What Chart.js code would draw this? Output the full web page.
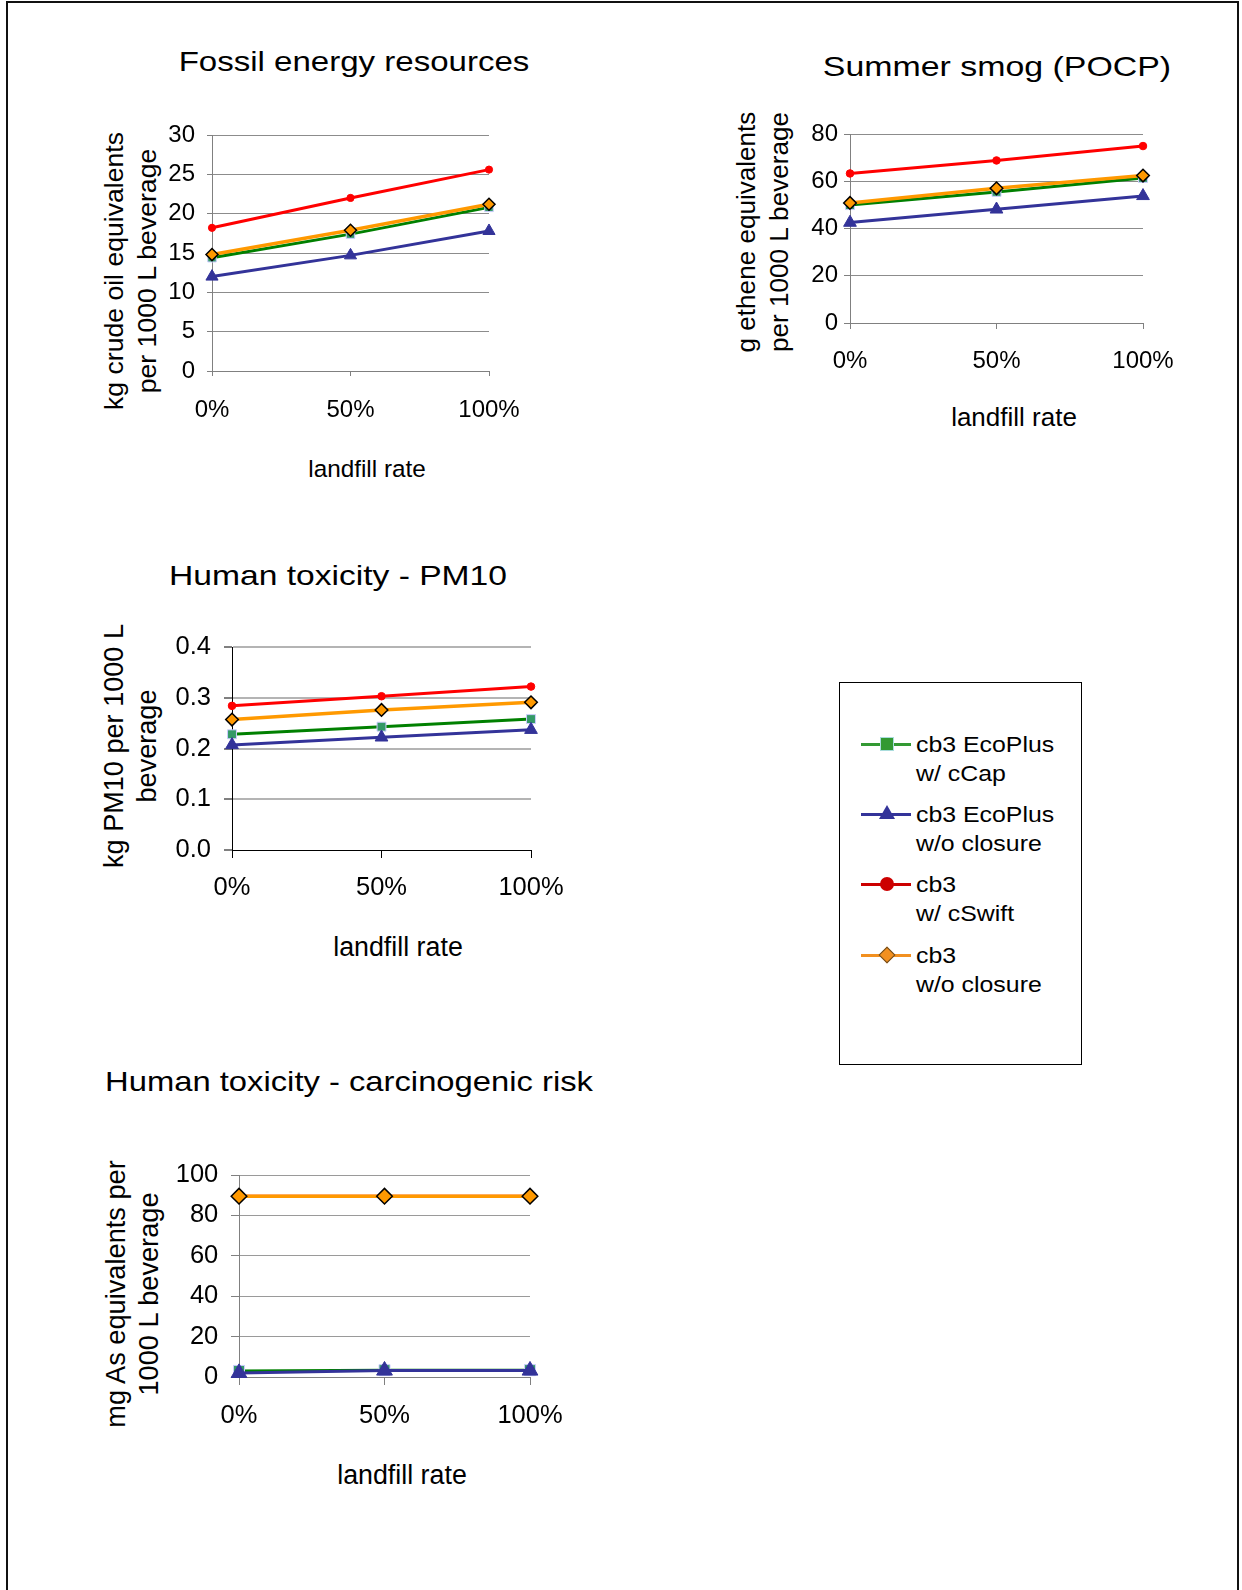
<!DOCTYPE html>
<html lang="en">
<head>
  <meta charset="UTF-8">
  <title>Impact categories vs. landfill rate</title>
  <script src="https://cdn.jsdelivr.net/npm/chart.js"></script>
  <style>
    html, body {
      margin: 0;
      padding: 0;
      width: 1242px;
      height: 1590px;
      overflow: hidden;
      background: #fff;
      font-family: 'Liberation Sans', Arial, sans-serif;
      color: #000;
    }
    .frame {
      position: absolute;
      left: 6px;
      top: 1px;
      width: 1229px;
      height: 1650px;
      border: 2px solid #111;
    }
    .chart-box {
      position: absolute;
    }
    .label {
      position: absolute;
      white-space: nowrap;
      line-height: 1;
      transform: translate(-50%, -50%);
    }
    .chart-title {
      font-size: 28px;
    }
    .y-title {
      position: absolute;
      white-space: nowrap;
      text-align: center;
      line-height: 33px;
      transform: translate(-50%, -50%) rotate(-90deg);
    }
    .legend {
      position: absolute;
      left: 839px;
      top: 682px;
      width: 241px;
      height: 381px;
      border: 1.5px solid #000;
    }
    .legend-line {
      position: absolute;
      left: 21px;
      width: 50px;
      height: 3px;
    }
    .legend-text {
      position: absolute;
      left: 76px;
      font-size: 22px;
      line-height: 29px;
      white-space: nowrap;
      transform: scaleX(1.13);
      transform-origin: left top;
    }
    .marker {
      position: absolute;
      box-sizing: border-box;
    }
  </style>
</head>
<body>
  <div class="frame"></div>

  <div class="label chart-title" style="left:354px; top:62px; transform:translate(-50%,-50%) scaleX(1.18);">Fossil energy resources</div>
  <div class="label chart-title" style="left:997px; top:67px; transform:translate(-50%,-50%) scaleX(1.21);">Summer smog (POCP)</div>
  <div class="label chart-title" style="left:338px; top:576px; transform:translate(-50%,-50%) scaleX(1.2);">Human toxicity - PM10</div>
  <div class="label chart-title" style="left:349px; top:1082px; transform:translate(-50%,-50%) scaleX(1.17);">Human toxicity - carcinogenic risk</div>

  <div class="label" style="left:367px; top:469px; font-size:24.3px;">landfill rate</div>
  <div class="label" style="left:1014px; top:417px; font-size:26px;">landfill rate</div>
  <div class="label" style="left:398px; top:947px; font-size:26.8px;">landfill rate</div>
  <div class="label" style="left:402px; top:1475px; font-size:26.8px;">landfill rate</div>

  <div class="y-title" style="left:130.5px; top:271px; font-size:26.6px;">kg crude oil equivalents<br>per 1000 L beverage</div>
  <div class="y-title" style="left:763px; top:232px; font-size:26.1px;">g ethene equivalents<br>per 1000 L beverage</div>
  <div class="y-title" style="left:130px; top:746px; font-size:27.1px;">kg PM10 per 1000 L<br>beverage</div>
  <div class="y-title" style="left:131.5px; top:1294px; font-size:27.2px;">mg As equivalents per<br>1000 L beverage</div>

  <div class="chart-box" style="left:90px; top:100px;"><canvas id="fossil" width="459" height="331"></canvas></div>
  <div class="chart-box" style="left:722px; top:100px;"><canvas id="smog" width="481" height="283"></canvas></div>
  <div class="chart-box" style="left:89px; top:610px;"><canvas id="pm10" width="502" height="300"></canvas></div>
  <div class="chart-box" style="left:91px; top:1140px;"><canvas id="carcino" width="499" height="297"></canvas></div>

  <div class="legend" id="legend"></div>

  <script>
    // categories
    const landfillRates = ['0%', '50%', '100%'];

    // legend text (two lines per series)
    const legendLine1 = ['cb3 EcoPlus', 'cb3 EcoPlus', 'cb3', 'cb3'];
    const legendLine2 = ['w/ cCap', 'w/o closure', 'w/ cSwift', 'w/o closure'];

    // Fossil energy resources, kg crude oil eq. per 1000 L
    const fossilEcoCap = [14.4, 17.4, 20.8];
    const fossilEcoNone = [12.0, 14.7, 17.8];
    const fossilSwift = [18.2, 22.0, 25.6];
    const fossilNone = [14.8, 17.9, 21.2];
    const fossilTicks = ['0', '5', '10', '15', '20', '25', '30'];

    // Summer smog, g ethene eq. per 1000 L
    const smogEcoCap = [49.9, 55.5, 61.4];
    const smogEcoNone = [42.5, 48.1, 53.8];
    const smogSwift = [63.3, 68.8, 74.9];
    const smogNone = [50.8, 57.0, 62.4];
    const smogTicks = ['0', '20', '40', '60', '80'];

    // PM10, kg per 1000 L
    const pm10EcoCap = [0.228, 0.243, 0.258];
    const pm10EcoNone = [0.207, 0.222, 0.237];
    const pm10Swift = [0.284, 0.303, 0.322];
    const pm10None = [0.257, 0.276, 0.291];
    const pm10Ticks = ['0.0', '0.1', '0.2', '0.3', '0.4'];

    // Carcinogenic risk, mg As eq. per 1000 L
    const carcinoEcoCap = [3.0, 3.4, 3.4];
    const carcinoEcoNone = [2.0, 3.2, 3.2];
    const carcinoSwift = [89.5, 89.5, 89.5];
    const carcinoNone = [89.5, 89.5, 89.5];
    const carcinoTicks = ['0', '20', '40', '60', '80', '100'];

    const FONT = "'Liberation Sans', Arial, sans-serif";

    // series look, later series drawn on top
    const seriesStyles = [
      { line: '#008000', width: 3, shape: 'rect', fill: '#339966', edge: '#ccccff', edgeWidth: 1, r: 6, order: 4 },
      { line: '#333399', width: 3, shape: 'triangle', fill: '#333399', edge: '#333399', edgeWidth: 1, r: 7, order: 3 },
      { line: '#ff0000', width: 3, shape: 'circle', fill: '#ff0000', edge: '#ff0000', edgeWidth: 1, r: 3.6, order: 2 },
      { line: '#ff9900', width: 3.5, shape: 'rectRot', fill: '#ff9900', edge: '#000000', edgeWidth: 1.5, r: 6, order: 1 }
    ];

    function buildChart(id, p) {
      const datasets = p.series.map((vals, i) => {
        const s = seriesStyles[i];
        return {
          label: legendLine1[i] + ' ' + legendLine2[i],
          data: vals,
          borderColor: s.line,
          borderWidth: s.width,
          pointStyle: s.shape,
          pointRadius: s.r * p.markerScale,
          pointBackgroundColor: s.fill,
          pointBorderColor: s.edge,
          pointBorderWidth: s.edgeWidth,
          tension: 0,
          fill: false,
          clip: false,
          order: s.order
        };
      });

      new Chart(document.getElementById(id), {
        type: 'line',
        data: { labels: landfillRates, datasets: datasets },
        options: {
          responsive: false,
          animation: false,
          events: [],
          layout: { padding: { top: p.padTop, right: 60, bottom: 0, left: 0 } },
          plugins: {
            legend: { display: false },
            tooltip: { enabled: false }
          },
          scales: {
            x: {
              type: 'category',
              offset: false,
              afterFit: scale => { scale.height = 60; },
              grid: {
                drawOnChartArea: false,
                drawTicks: true,
                tickLength: p.xTick,
                tickColor: p.axisColor,
                tickWidth: 1
              },
              border: { display: true, color: p.axisColor, width: 1 },
              ticks: {
                color: '#000',
                padding: p.xPad,
                maxRotation: 0,
                autoSkip: false,
                font: { family: FONT, size: p.tickSize }
              }
            },
            y: {
              min: Number(p.ticks[0]),
              max: Number(p.ticks[p.ticks.length - 1]),
              afterBuildTicks: scale => {
                scale.ticks = p.ticks.map(t => ({ value: Number(t) }));
              },
              afterFit: scale => { scale.width = p.yWidth; },
              grid: {
                color: ctx => (ctx.tick && ctx.tick.value === 0) ? 'rgba(0,0,0,0)' : p.gridColor,
                lineWidth: p.gridWidth,
                drawTicks: true,
                tickLength: p.yTick,
                tickColor: p.axisColor,
                tickWidth: 1
              },
              border: { display: true, color: p.axisColor, width: 1 },
              ticks: {
                color: '#000',
                padding: p.yPad,
                font: { family: FONT, size: p.tickSize },
                callback: (value, index) => p.ticks[index]
              }
            }
          }
        }
      });
    }

    buildChart('fossil', {
      series: [fossilEcoCap, fossilEcoNone, fossilSwift, fossilNone],
      ticks: fossilTicks,
      yWidth: 122, padTop: 35,
      xTick: 5, xPad: 19.6, yTick: 5, yPad: 12,
      tickSize: 24, markerScale: 1,
      axisColor: '#808080', gridColor: '#8c8c8c', gridWidth: 1
    });

    buildChart('smog', {
      series: [smogEcoCap, smogEcoNone, smogSwift, smogNone],
      ticks: smogTicks,
      yWidth: 128, padTop: 34,
      xTick: 6, xPad: 17.6, yTick: 6, yPad: 6,
      tickSize: 24, markerScale: 1.05,
      axisColor: '#808080', gridColor: '#8c8c8c', gridWidth: 1
    });

    buildChart('pm10', {
      series: [pm10EcoCap, pm10EcoNone, pm10Swift, pm10None],
      ticks: pm10Ticks,
      yWidth: 143, padTop: 37,
      xTick: 8, xPad: 15, yTick: 8, yPad: 13,
      tickSize: 25.5, markerScale: 1.05,
      axisColor: '#000000', gridColor: '#b4b4b4', gridWidth: 2
    });

    buildChart('carcino', {
      series: [carcinoEcoCap, carcinoEcoNone, carcinoSwift, carcinoNone],
      ticks: carcinoTicks,
      yWidth: 148, padTop: 35,
      xTick: 8, xPad: 16, yTick: 8, yPad: 12.7,
      tickSize: 25.5, markerScale: 1.3,
      axisColor: '#808080', gridColor: '#9a9a9a', gridWidth: 1
    });

    // shared legend box
    const legendColors = ['#339933', '#333399', '#cc0000', '#f29020'];
    const legendTop = [61, 131, 201, 272];
    const legend = document.getElementById('legend');

    legendColors.forEach((color, i) => {
      const y = legendTop[i];
      const line = document.createElement('div');
      line.className = 'legend-line';
      line.style.top = (y - 1.5) + 'px';
      line.style.background = color;
      legend.appendChild(line);

      const m = document.createElement('div');
      m.className = 'marker';
      if (i === 0) {
        Object.assign(m.style, { left: '40px', top: (y - 7) + 'px', width: '14px', height: '14px',
          background: color, border: '1.5px solid #aadddd' });
      } else if (i === 1) {
        Object.assign(m.style, { left: '39px', top: (y - 9) + 'px', width: '16px', height: '14px',
          background: color, clipPath: 'polygon(50% 0, 100% 100%, 0 100%)' });
      } else if (i === 2) {
        Object.assign(m.style, { left: '40px', top: (y - 7) + 'px', width: '14px', height: '14px',
          background: color, borderRadius: '50%' });
      } else {
        Object.assign(m.style, { left: '41px', top: (y - 6) + 'px', width: '12px', height: '12px',
          background: color, border: '1px solid #6b4a1e', transform: 'rotate(45deg)' });
      }
      legend.appendChild(m);

      const t = document.createElement('div');
      t.className = 'legend-text';
      t.style.top = (y - 14.2) + 'px';
      t.innerHTML = legendLine1[i] + '<br>' + legendLine2[i];
      legend.appendChild(t);
    });
  </script>
</body>
</html>
